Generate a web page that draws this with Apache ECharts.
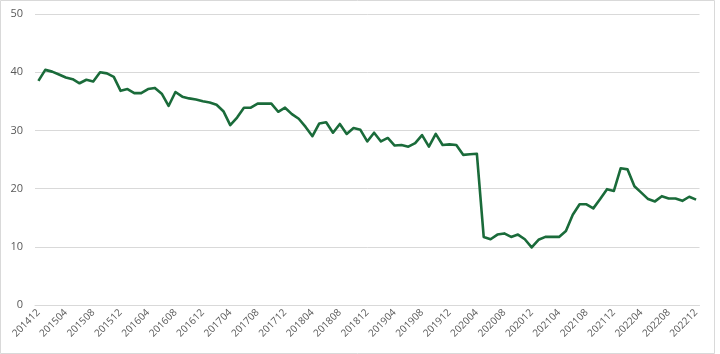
<!DOCTYPE html>
<html>
<head>
<meta charset="utf-8">
<script src="https://cdn.jsdelivr.net/npm/echarts@6/dist/echarts.min.js"></script>
<style>html,body{margin:0;padding:0;background:#fff}#c{width:720px;height:354px}</style>
</head>
<body>
<div id="c"></div>
<script>
// months 201412 .. 202212
const months = [];
for (let y = 2014, m = 12; y < 2023 || (y === 2022 && m <= 12);) {
  months.push(String(y) + String(m).padStart(2, '0'));
  if (y === 2022 && m === 12) break;
  m++; if (m > 12) { m = 1; y++; }
}
const values = [
  38.5, 40.4, 40.1, 39.6, 39.1, 38.8, 38.1, 38.7, 38.4, 40.0, 39.8, 39.2,
  36.8, 37.1, 36.4, 36.4, 37.1, 37.3, 36.3, 34.2, 36.6, 35.8, 35.5, 35.3,
  35.0, 34.8, 34.4, 33.3, 30.9, 32.2, 33.9, 33.9, 34.6, 34.6, 34.6, 33.2,
  33.9, 32.8, 32.0, 30.6, 29.0, 31.2, 31.4, 29.6, 31.1, 29.4, 30.4, 30.1,
  28.1, 29.6, 28.1, 28.7, 27.4, 27.5, 27.2, 27.8, 29.2, 27.2, 29.4, 27.5,
  27.6, 27.5, 25.8, 25.9, 26.0, 11.7, 11.3, 12.1, 12.3, 11.7, 12.1, 11.3,
  9.9, 11.2, 11.7, 11.7, 11.7, 12.7, 15.5, 17.3, 17.3, 16.6, 18.2, 19.9,
  19.6, 23.5, 23.3, 20.4, 19.3, 18.2, 17.8, 18.7, 18.3, 18.3, 17.9, 18.6,
  18.1
];
const yTicks = { min: 0, max: 50, interval: 10 };

const chart = echarts.init(document.getElementById('c'), null, { renderer: 'canvas' });
chart.setOption({
  animation: false,
  backgroundColor: '#fff',
  graphic: [{
    type: 'rect', shape: { x: 0.5, y: 0.5, width: 714, height: 353 },
    style: { fill: 'none', stroke: '#d9d9d9', lineWidth: 1 }, silent: true, z: -1
  }],
  grid: { left: 35, right: 20.5, top: 14, bottom: 49, containLabel: false },
  xAxis: {
    type: 'category', data: months, boundaryGap: true,
    axisLine: { show: true, lineStyle: { color: '#d9d9d9', width: 1 } },
    axisTick: { show: false },
    axisLabel: {
      interval: 3, rotate: 45, color: '#595959', fontSize: 10,
      fontFamily: 'Open Sans', margin: 6
    },
    splitLine: { show: false }
  },
  yAxis: {
    type: 'value', min: yTicks.min, max: yTicks.max, interval: yTicks.interval,
    axisLine: { show: false }, axisTick: { show: false },
    axisLabel: { color: '#595959', fontSize: 11, fontFamily: 'Open Sans', margin: 12 },
    splitLine: { lineStyle: { color: '#d9d9d9', width: 1 } }
  },
  series: [{
    type: 'line', data: values, showSymbol: false, symbol: 'none',
    lineStyle: { color: '#1a6b3a', width: 2.6, join: 'round' }
  }]
});
</script>
</body>
</html>
